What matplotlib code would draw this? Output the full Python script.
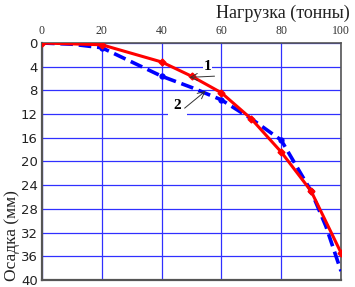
import matplotlib.pyplot as plt
import numpy as np

# нагрузка (тонны) и осадка (мм)
load = [0, 20, 40, 50, 60, 70, 80, 90, 100]
settle_1 = [0, 0.3, 3.2, 5.6, 8.4, 12.8, 18.4, 25.0, 35.4]
load_2 = [0, 10, 20, 30, 40, 50, 60, 70, 80, 90, 95, 100]
settle_2 = [0, 0.2, 0.8, 3.2, 5.6, 7.5, 9.6, 12.8, 16.4, 25.0, 31.0, 38.5]

xticks = [0, 20, 40, 60, 80, 100]
yticks = [0, 4, 8, 12, 16, 20, 24, 28, 32, 36, 40]

fig = plt.figure(figsize=(3.55, 2.87), dpi=100)
ax = fig.add_axes([0.1183, 0.0244, 0.8423, 0.8258])

ax.set_xlim(0, 100)
ax.set_ylim(40, 0)
ax.set_xticks(xticks)
ax.set_yticks(yticks)
ax.xaxis.tick_top()
ax.tick_params(length=0)
ax.tick_params(axis='x', pad=4, labelsize=8.5, labelcolor='#333333')
ax.tick_params(axis='y', pad=3, labelsize=9.5, labelcolor='#222222')
for lab in ax.get_xticklabels():
    lab.set_family('Liberation Serif')

ax.grid(True, color='#3030ff', linewidth=0.9)
ax.set_axisbelow(True)
for s in ax.spines.values():
    s.set_color('#555555')
    s.set_linewidth(1.2)
ax.spines['left'].set_linewidth(1.6)
ax.spines['bottom'].set_linewidth(1.6)

ax.plot(load_2, settle_2, color='#0000ff', lw=2.6, ls=(0, (3.5, 1.6)),
        marker='o', ms=3.5, markevery=[2, 4, 6, 8, 9], zorder=3)
ax.plot(load, settle_1, color='#ff0000', lw=2.2, marker='D', ms=3.5, zorder=4)

ax.annotate('1', xy=(49.3, 5.9), xytext=(55.4, 4.0), ha='center', va='center',
            fontsize=11, fontweight='bold', family='Liberation Serif',
            bbox=dict(boxstyle='square,pad=0.05', fc='white', ec='none'),
            zorder=5)
ax.annotate('', xy=(49.3, 5.8), xytext=(57.7, 5.6),
            arrowprops=dict(arrowstyle='->,head_length=0.5,head_width=0.25',
                            color='#333333', lw=0.7, shrinkA=0, shrinkB=0),
            zorder=5)

ax.text(45.3, 10.6, '2', ha='center', va='center', fontsize=11,
        fontweight='bold', family='Liberation Serif',
        bbox=dict(boxstyle='square,pad=0.35', fc='white', ec='none'), zorder=5)
ax.annotate('', xy=(54.7, 8.1), xytext=(47.7, 11.0),
            arrowprops=dict(arrowstyle='->,head_length=0.5,head_width=0.25',
                            color='#333333', lw=0.7, shrinkA=0, shrinkB=0),
            zorder=5)

fig.text(0.985, 0.955, 'Нагрузка (тонны)', ha='right', va='center',
         fontsize=13, family='Liberation Serif', color='#222222')
fig.text(0.035, 0.02, 'Осадка (мм)', ha='center', va='bottom', rotation=90,
         fontsize=12.5, family='Liberation Serif', color='#222222')

fig.savefig('out.png', dpi=100)
